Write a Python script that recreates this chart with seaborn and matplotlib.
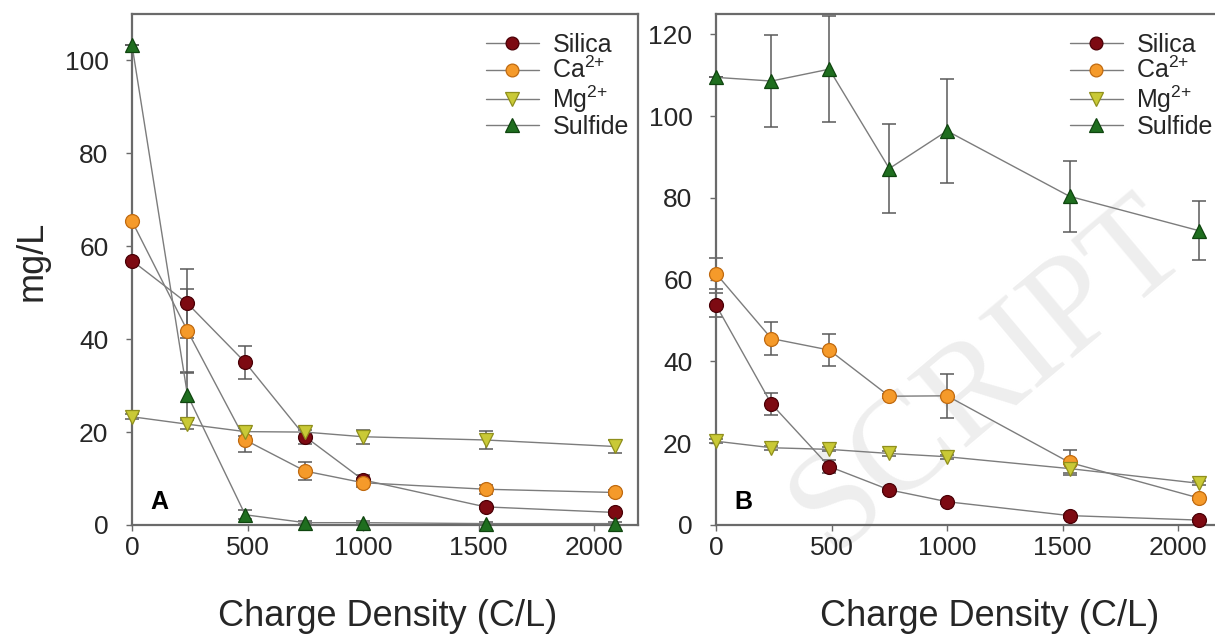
import numpy as np
import pandas as pd
import matplotlib
matplotlib.use("Agg")
import matplotlib.pyplot as plt
from matplotlib.lines import Line2D
import seaborn as sns

# ---------------- data ----------------
charge = [0, 240, 490, 750, 1000, 1530, 2090]
species = ["Silica", "Ca2+", "Mg2+", "Sulfide"]
labels = [r"Silica", r"Ca$^{2{+}}$", r"Mg$^{2{+}}$", r"Sulfide"]

# Panel A
a_silica = [56.9, 47.7, 35.0, 19.0, 9.7, 3.9, 2.7]
a_ca = [65.4, 41.8, 18.3, 11.6, 9.1, 7.7, 7.0]
a_mg = [23.3, 21.7, 20.1, 20.0, 19.0, 18.3, 16.9]
a_sulfide = [103.3, 28.0, 2.2, 0.5, 0.5, 0.3, 0.3]
a_silica_err = [0.0, 7.5, 3.5, 1.5, 1.0, 0.5, 0.5]
a_ca_err = [0.0, 9.0, 2.5, 2.0, 1.0, 1.0, 0.5]
a_mg_err = [0.5, 1.0, 1.0, 1.0, 1.5, 2.0, 1.5]
a_sulfide_err = [0.0, 5.0, 1.0, 0.3, 0.3, 0.3, 0.3]

# Panel B
b_silica = [53.8, 29.6, 14.3, 8.6, 5.7, 2.3, 1.2]
b_ca = [61.5, 45.6, 42.8, 31.5, 31.6, 15.3, 6.6]
b_mg = [20.5, 18.9, 18.5, 17.5, 16.7, 13.8, 10.2]
b_sulfide = [109.5, 108.6, 111.5, 87.2, 96.4, 80.4, 72.0]
b_silica_err = [3.0, 2.7, 1.5, 0.5, 0.5, 0.5, 0.5]
b_ca_err = [3.7, 4.0, 3.9, 0.5, 5.4, 3.0, 0.5]
b_mg_err = [0.5, 0.5, 0.5, 0.5, 0.5, 1.0, 0.5]
b_sulfide_err = [0.0, 11.2, 13.0, 10.8, 12.7, 8.7, 7.2]

x_ticks = [0, 500, 1000, 1500, 2000]
a_yticks = [0, 20, 40, 60, 80, 100]
b_yticks = [0, 20, 40, 60, 80, 100, 120]

# ---------------- style ----------------
sns.set_style("ticks")
plt.rcParams["font.family"] = ["Liberation Sans", "DejaVu Sans"]
plt.rcParams["mathtext.fontset"] = "custom"
plt.rcParams["mathtext.rm"] = "Liberation Sans"
plt.rcParams["mathtext.it"] = "Liberation Sans"
plt.rcParams["mathtext.default"] = "regular"

face = {"Silica": "#7d0a12", "Ca2+": "#f59a2a", "Mg2+": "#c9c936", "Sulfide": "#1f6e1f"}
edge = {"Silica": "#4a0006", "Ca2+": "#c06a10", "Mg2+": "#8f8f1c", "Sulfide": "#0f450f"}
mk = {"Silica": "o", "Ca2+": "o", "Mg2+": "v", "Sulfide": "^"}
msize = {"Silica": 10, "Ca2+": 10, "Mg2+": 10.5, "Sulfide": 10.5}
line_gray = "#7c7c7c"
spine_gray = "#6a6a6a"
text_col = "#262626"

fig = plt.figure(figsize=(12.15, 6.38), dpi=100)
fig.patch.set_facecolor("white")

W, H = 1215, 638
def pos(l, t, w, h):
    return [l / W, 1 - (t + h) / H, w / W, h / H]

axA = fig.add_axes(pos(132, 14, 506, 511))
axB = fig.add_axes(pos(716, 14, 506, 511))


def draw(ax, vals, errs, ylim, yticks, letter, xlabel_x):
    frames = []
    for sp, v in zip(species, vals):
        frames.append(pd.DataFrame({"charge": charge, "value": v, "species": sp}))
    df = pd.concat(frames, ignore_index=True)
    sns.lineplot(data=df, x="charge", y="value", hue="species", hue_order=species,
                 style="species", style_order=species, markers=mk, dashes=False,
                 palette=face, linewidth=1.0, legend=False, sort=False, ax=ax)
    for i, (line, sp) in enumerate(zip(ax.lines, species)):
        line.set_color(line_gray)
        line.set_markerfacecolor(face[sp])
        line.set_markeredgecolor(edge[sp])
        line.set_markeredgewidth(0.9)
        line.set_markersize(msize[sp])
        line.set_zorder(3 + i)
        line.set_clip_on(False)
    for sp, v, e in zip(species, vals, errs):
        eb = ax.errorbar(charge, v, yerr=e, fmt="none", ecolor="#5a5a5a",
                         elinewidth=1.1, capsize=5, capthick=1.1, zorder=2)
        for art in eb.get_children():
            art.set_clip_on(False)

    ax.set_xlim(0, 2190)
    ax.set_ylim(*ylim)
    ax.set_xticks(x_ticks)
    ax.set_yticks(yticks)
    ax.set_facecolor("none")
    for s in ax.spines.values():
        s.set_visible(True)
        s.set_color(spine_gray)
        s.set_linewidth(1.6)
    ax.tick_params(axis="both", direction="out", length=4, width=1,
                   color=spine_gray, labelsize=19, labelcolor=text_col)
    ax.tick_params(axis="y", pad=13)
    ax.tick_params(axis="x", pad=4)
    ax.set_xlabel("Charge Density (C/L)", fontsize=26, color=text_col, va="center")
    ax.xaxis.set_label_coords(xlabel_x, -0.18)
    ax.set_ylabel("")
    ax.text(0.055, 0.045, letter, transform=ax.transAxes, fontsize=18,
            fontweight="bold", color="black", ha="center", va="center")

    handles = [Line2D([0], [0], color=line_gray, lw=1.0, marker=mk[sp],
                      markerfacecolor=face[sp], markeredgecolor=edge[sp],
                      markeredgewidth=0.9, markersize=msize[sp] * 0.92)
               for sp in species]
    ax.legend(handles, labels, loc="upper left", bbox_to_anchor=(0.70, 0.963),
              frameon=False, fontsize=18, handlelength=2.1, handletextpad=0.55,
              labelspacing=0.0, borderpad=0, borderaxespad=0, labelcolor=text_col)


draw(axA, [a_silica, a_ca, a_mg, a_sulfide],
     [a_silica_err, a_ca_err, a_mg_err, a_sulfide_err],
     (0, 110), a_yticks, "A", 0.505)
draw(axB, [b_silica, b_ca, b_mg, b_sulfide],
     [b_silica_err, b_ca_err, b_mg_err, b_sulfide_err],
     (0, 125), b_yticks, "B", 0.54)

axA.set_ylabel("mg/L", fontsize=26, color=text_col, va="center")
axA.yaxis.set_label_coords(-0.198, 0.517)

# faint manuscript watermark
fig.text(0.815, 0.41, "SCRIPT", fontsize=100, family="Liberation Serif",
         color="#eeeeee", rotation=40, rotation_mode="anchor",
         ha="center", va="center", zorder=-1)

fig.savefig("out.png", dpi=100, facecolor="white")
